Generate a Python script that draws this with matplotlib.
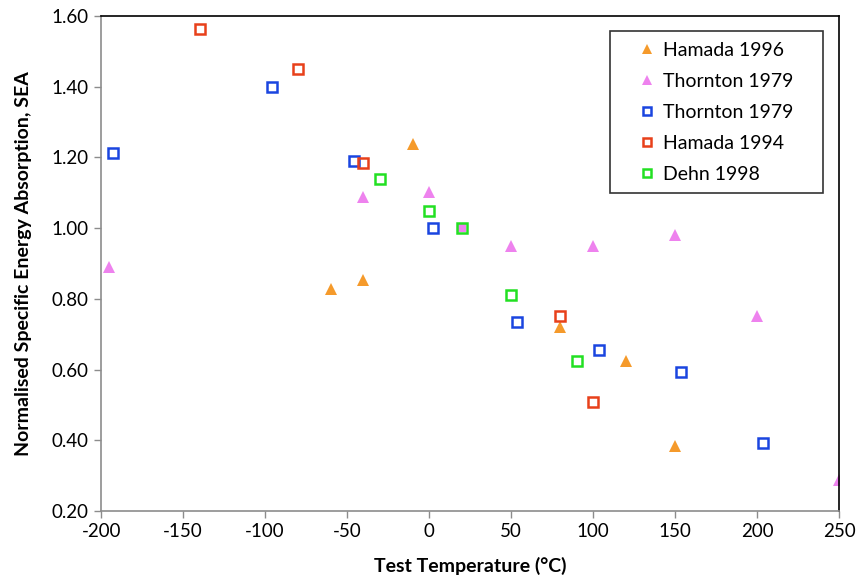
import matplotlib.pyplot as plt

plt.rcParams['font.family'] = ['Lato', 'DejaVu Sans']
plt.rcParams['axes.unicode_minus'] = False

# Data
hamada96_t = [-60, -40, -10, 80, 120, 150]
hamada96_sea = [0.827, 0.853, 1.238, 0.72, 0.624, 0.383]

thornton_tri_t = [-195, -40, 0, 50, 100, 150, 200, 250]
thornton_tri_sea = [0.889, 1.087, 1.103, 0.95, 0.95, 0.98, 0.752, 0.288]

thornton_sq_t = [-193, -96, -46, 2.5, 53.5, 103.5, 153.5, 203.5]
thornton_sq_sea = [1.213, 1.40, 1.191, 0.999, 0.734, 0.655, 0.594, 0.393]

hamada94_t = [-140, -80, -40, 80, 100]
hamada94_sea = [1.563, 1.449, 1.185, 0.752, 0.507]

dehn_t = [-30, 0, 20, 50, 90]
dehn_sea = [1.14, 1.049, 1.0, 0.811, 0.623]

fig = plt.figure(figsize=(8.57, 5.81), dpi=100)
ax = fig.add_axes([0.118, 0.1205, 0.861, 0.852])

tri = dict(linestyle='none', marker='^', markersize=8, markeredgewidth=0)
sq = dict(linestyle='none', marker='s', markersize=7, markeredgewidth=1.8)

ax.plot(hamada96_t, hamada96_sea, color='#F59A2B', label='Hamada 1996', **tri)
ax.plot(thornton_tri_t, thornton_tri_sea, color='#EE82EE', label='Thornton 1979', **tri)
ax.plot(thornton_sq_t, thornton_sq_sea, color='#1A45E0', markerfacecolor='none',
        label='Thornton 1979', **sq)
ax.plot(hamada94_t, hamada94_sea, color='#E8401A', markerfacecolor='none',
        label='Hamada 1994', **sq)
ax.plot(dehn_t, dehn_sea, color='#22E022', markerfacecolor='none',
        label='Dehn 1998', **sq)
# the Dehn square at 20 C shows a violet fill in the original
ax.plot(dehn_t[2], dehn_sea[2], linestyle='none', marker='s', markersize=5.2,
        markeredgewidth=0, color='#EE82EE', zorder=1.9)

ax.set_xlim(-200, 250)
ax.set_ylim(0.2, 1.6)
ax.set_xticks(range(-200, 251, 50))
ax.set_yticks([0.2, 0.4, 0.6, 0.8, 1.0, 1.2, 1.4, 1.6])
ax.set_yticklabels([f'{v:.2f}' for v in ax.get_yticks()])

ax.tick_params(direction='out', length=5, width=1, color='#8C8C8C',
               labelsize=13.5, pad=4)
for s in ['left', 'bottom']:
    ax.spines[s].set_color('#8C8C8C')
    ax.spines[s].set_linewidth(1.2)
for s in ['top', 'right']:
    ax.spines[s].set_color('black')
    ax.spines[s].set_linewidth(1.2)

ax.set_xlabel('Test Temperature (°C)', fontsize=14, fontweight='bold', labelpad=12)
ax.set_ylabel('Normalised Specific Energy Absorption, SEA', fontsize=14,
              fontweight='bold', labelpad=14)

leg = ax.legend(loc='upper right', bbox_to_anchor=(0.690, 0.5, 0.288, 0.470),
                mode='expand', borderaxespad=0,
                fontsize=14, frameon=True, fancybox=False, edgecolor='black',
                handletextpad=-0.55, handlelength=2.7, labelspacing=0.72,
                borderpad=0.55, markerscale=0.85)
leg.get_frame().set_linewidth(1.2)

plt.savefig('out.png', dpi=100)
